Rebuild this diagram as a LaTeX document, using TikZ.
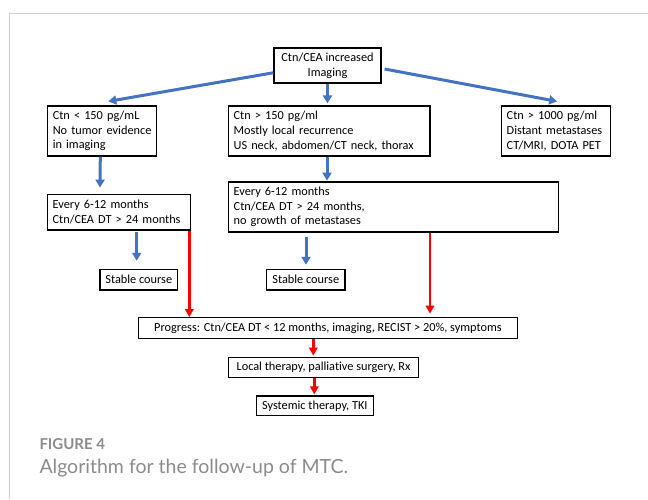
\documentclass[tikz,border=0pt]{standalone}
\usepackage{fontspec}
\setmainfont{Carlito}[Ligatures=NoCommon]
\newfontfamily\capfont{Lato}
\usetikzlibrary{arrows.meta,calc}
\definecolor{obl}{HTML}{4472C4}
\definecolor{capgray}{HTML}{8C8C8C}
\definecolor{framegray}{HTML}{D0D0D0}
\begin{document}
\begin{tikzpicture}[x=1pt,y=-1pt,
  box/.style={draw=black,line width=1.2pt,inner xsep=5pt,inner ysep=0pt,
    font=\fontsize{12.3}{14.6}\selectfont,align=left},
  cbox/.style={box,align=center},
  barrow/.style={draw=obl,line width=3pt,-{Triangle[length=8pt,width=9pt]}},
  rarrow/.style={draw=red,line width=2.8pt,-{Triangle[length=8pt,width=8.5pt]}}]
\useasboundingbox (0,0) rectangle (648,499);
\draw[framegray,line width=1pt] (648,13.3) -- (9.3,13.3) -- (9.3,499);
\node[cbox,minimum width=107pt,minimum height=35pt] (top) at (327.5,65.5) {Ctn/CEA increased\\Imaging};
\node[box,minimum width=109pt,minimum height=50pt,text width=99pt] (A) at (102.3,131) {Ctn {<} 150 pg/mL\\No tumor evidence\\in imaging};
\node[box,minimum width=201.3pt,minimum height=50pt,text width=191.3pt] (B) at (329.3,131) {Ctn {>} 150 pg/ml\\Mostly local recurrence\\US neck, abdomen/CT neck, thorax};
\node[box,minimum width=109pt,minimum height=50pt,text width=99pt] (C) at (556.2,131) {Ctn {>} 1000 pg/ml\\Distant metastases\\CT/MRI, DOTA PET};
\node[box,minimum width=142.7pt,minimum height=35.7pt,text width=132.7pt] (D) at (119,212.2) {Every 6-12 months\\Ctn/CEA DT {>} 24 months};
\node[box,minimum width=330pt,minimum height=50pt,text width=320pt] (E) at (393.7,207) {Every 6-12 months\\Ctn/CEA DT {>} 24 months,\\no growth of metastases};
\node[cbox,minimum width=77.7pt,minimum height=20.7pt] (S1) at (138.8,279.7) {Stable course};
\node[cbox,minimum width=78.3pt,minimum height=20.7pt] (S2) at (305.8,279.7) {Stable course};
\node[cbox,minimum width=378.6pt,minimum height=20.6pt] (P) at (328,328) {Progress: Ctn/CEA DT {<} 12 months, imaging, RECIST {>} 20\%, symptoms};
\node[cbox,minimum width=189.6pt,minimum height=19.6pt] (L) at (323.5,367.5) {Local therapy, palliative surgery, Rx};
\node[cbox,minimum width=117pt,minimum height=19.7pt] (T) at (314.8,405.8) {Systemic therapy, TKI};
% blue arrows
\draw[barrow] ($(top.south west)!0.3!(top.north west)$) -- ($(A.north)+(6,-4)$);
\draw[barrow] ($(top.east)+(3,3.5)$) -- ($(C.north)+(1,-4)$);
\draw[barrow] (top.south) -- ($(top.south |- B.north)+(0,-2)$);
\draw[barrow] ($(A.south)+(-2,0)$) -- ($(A.south -| 100,0)+(0,31)$);
\draw[barrow] ($(B.south -| 327,0)$) -- ($(B.south -| 327,0)+(0,24)$);
\draw[barrow] ($(D.south -| 136.7,0)+(0,1.5)$) -- ($(S1.north -| 136.7,0)+(0,-8)$);
\draw[barrow] ($(E.south -| 306,0)+(0,4)$) -- ($(S2.north -| 306,0)+(0,-4)$);
% red arrows
\draw[rarrow] (D.south -| 189.3,0) -- (P.north -| 189.3,0);
\draw[rarrow] (E.south -| 430,0) -- ($(P.north -| 430,0)+(0,-3.5)$);
\draw[rarrow] (P.south -| 313.3,0) -- ($(L.north -| 313.3,0)+(0,-1.5)$);
\draw[rarrow] (L.south -| 314.3,0) -- ($(T.north -| 314.3,0)+(0,-1)$);
% caption
\node[anchor=base west,inner sep=0pt,text=capgray,font=\capfont\bfseries\fontsize{15}{18}\selectfont] (fig) at (39.3,449.3) {FIGURE 4};
\node[anchor=base west,inner sep=0pt,text=capgray,font=\capfont\fontsize{19.5}{23}\selectfont] (capt) at (39.3,473.3) {Algorithm for the follow-up of MTC.};
\end{tikzpicture}
\end{document}
